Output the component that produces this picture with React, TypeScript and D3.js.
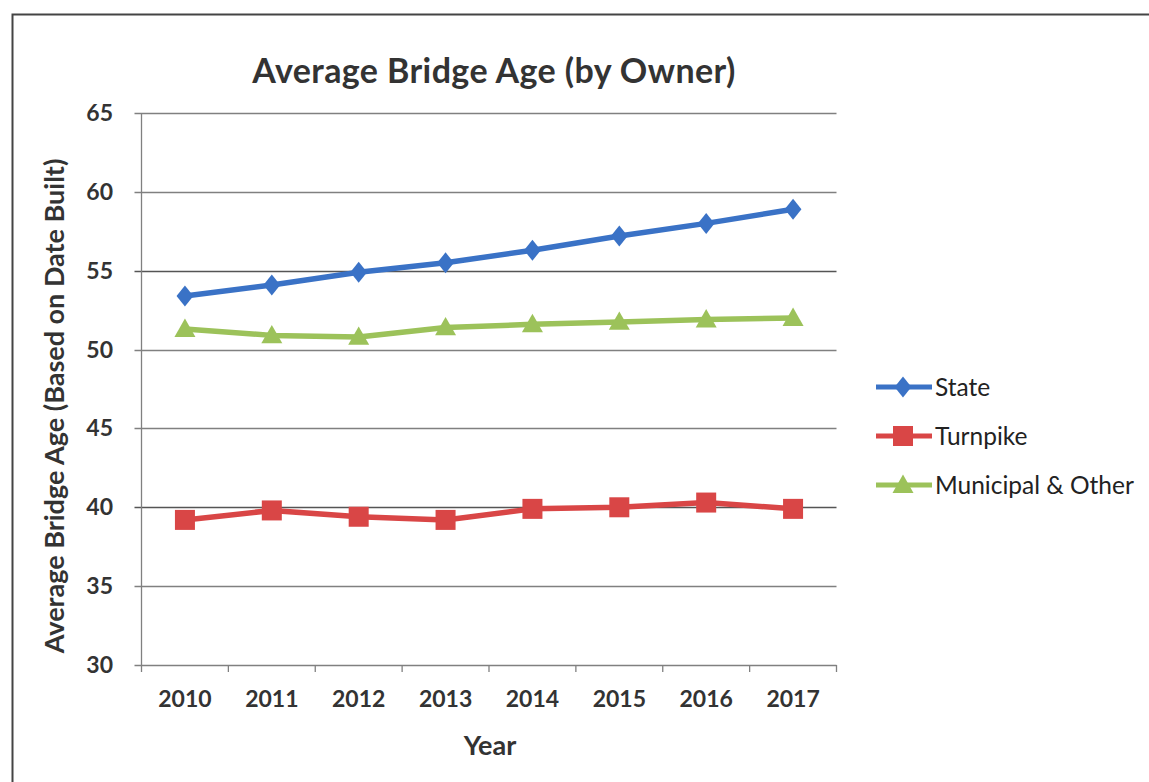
import React from "react";
import * as d3 from "d3";

const years = ["2010", "2011", "2012", "2013", "2014", "2015", "2016", "2017"];
const stateValues = [53.4, 54.1, 54.9, 55.5, 56.3, 57.2, 58.0, 58.9];
const turnpikeValues = [39.2, 39.8, 39.4, 39.2, 39.9, 40.0, 40.3, 39.9];
const municipalValues = [51.3, 50.9, 50.8, 51.4, 51.6, 51.75, 51.9, 52.0];
const yTicks = [30, 35, 40, 45, 50, 55, 60, 65];
const seriesNames = ["State", "Turnpike", "Municipal & Other"];

const W = 1149;
const H = 782;
const FONT = "Lato, 'Open Sans', sans-serif";
const TEXT = "#333";

const plot = { left: 141.5, right: 836.5, top: 113, bottom: 665 };

const x = d3.scaleBand<string>().domain(years).range([plot.left, plot.right]);
const y = d3.scaleLinear().domain([30, 65]).range([plot.bottom, plot.top]);

const colors = ["#3a72c6", "#d94646", "#9cc25a"];
const seriesList = [stateValues, turnpikeValues, municipalValues];

function Marker({ kind, cx, cy, color }: { kind: number; cx: number; cy: number; color: string }) {
  if (kind === 0) {
    const s = 10.5;
    return <path d={`M${cx},${cy - s}L${cx + s * 0.8},${cy}L${cx},${cy + s}L${cx - s * 0.8},${cy}Z`} fill={color} />;
  }
  if (kind === 1) {
    const s = 10;
    return <rect x={cx - s} y={cy - s} width={s * 2} height={s * 2} fill={color} />;
  }
  const s = 10.5;
  return <path d={`M${cx},${cy - s}L${cx + s},${cy + s * 0.75}L${cx - s},${cy + s * 0.75}Z`} fill={color} />;
}

export default function App() {
  const line = d3
    .line<number>()
    .x((_, i) => (x(years[i]) as number) + x.bandwidth() / 2)
    .y((d) => y(d));

  const legendY = [387, 436, 485];

  return (
    <svg
      width={W}
      height={H}
      style={{ position: "absolute", left: 0, top: 0, background: "#fff" }}
      fontFamily={FONT}
    >
      <rect x={0} y={0} width={W} height={H} fill="#fff" />
      {/* frame */}
      <path d={`M12.5,${H}V14.5H${W}`} fill="none" stroke="#444" strokeWidth={2} />

      {/* title */}
      <text x={494} y={83} textAnchor="middle" fontSize={34} fontWeight={700} fill={TEXT} letterSpacing={0.4}>
        Average Bridge Age (by Owner)
      </text>

      {/* gridlines */}
      {yTicks.map((t) => (
        <line
          key={t}
          x1={plot.left - 7}
          x2={plot.right}
          y1={Math.round(y(t)) + 0.5}
          y2={Math.round(y(t)) + 0.5}
          stroke={t === 55 || t === 40 ? "#555" : "#808080"}
          strokeWidth={1.3}
        />
      ))}
      {/* y axis */}
      <line x1={plot.left} x2={plot.left} y1={plot.top} y2={plot.bottom} stroke="#808080" strokeWidth={1.3} />
      {/* x ticks */}
      {years.map((yr) => (
        <line
          key={yr}
          x1={x(yr) as number}
          x2={x(yr) as number}
          y1={plot.bottom}
          y2={plot.bottom + 7}
          stroke="#808080"
          strokeWidth={1.3}
        />
      ))}
      <line x1={plot.right} x2={plot.right} y1={plot.bottom} y2={plot.bottom + 7} stroke="#808080" strokeWidth={1.3} />

      {/* y tick labels */}
      {yTicks.map((t) => (
        <text key={t} x={113} y={y(t) + 8} textAnchor="end" fontSize={23} fontWeight={700} fill={TEXT}>
          {t}
        </text>
      ))}
      {/* x tick labels */}
      {years.map((yr) => (
        <text
          key={yr}
          x={(x(yr) as number) + x.bandwidth() / 2}
          y={707}
          textAnchor="middle"
          fontSize={23}
          fontWeight={700}
          fill={TEXT}
        >
          {yr}
        </text>
      ))}

      {/* axis titles */}
      <text x={490} y={755} textAnchor="middle" fontSize={27} fontWeight={700} fill={TEXT}>
        Year
      </text>
      <text
        transform={`translate(64,406) rotate(-90)`}
        textAnchor="middle"
        fontSize={27}
        fontWeight={700}
        fill={TEXT}
      >
        Average Bridge Age (Based on Date Built)
      </text>

      {/* series */}
      {seriesList.map((vals, si) => (
        <g key={si}>
          <path d={line(vals) as string} fill="none" stroke={colors[si]} strokeWidth={5.5} strokeLinejoin="round" />
          {vals.map((v, i) => (
            <Marker
              key={i}
              kind={si}
              cx={(x(years[i]) as number) + x.bandwidth() / 2}
              cy={y(v)}
              color={colors[si]}
            />
          ))}
        </g>
      ))}

      {/* legend */}
      {seriesNames.map((name, i) => (
        <g key={name}>
          <line x1={876} x2={932} y1={legendY[i]} y2={legendY[i]} stroke={colors[i]} strokeWidth={5} />
          <Marker kind={i} cx={903} cy={legendY[i]} color={colors[i]} />
          <text x={935} y={legendY[i] + 9} fontSize={24.5} fill="#222">
            {name}
          </text>
        </g>
      ))}
    </svg>
  );
}
